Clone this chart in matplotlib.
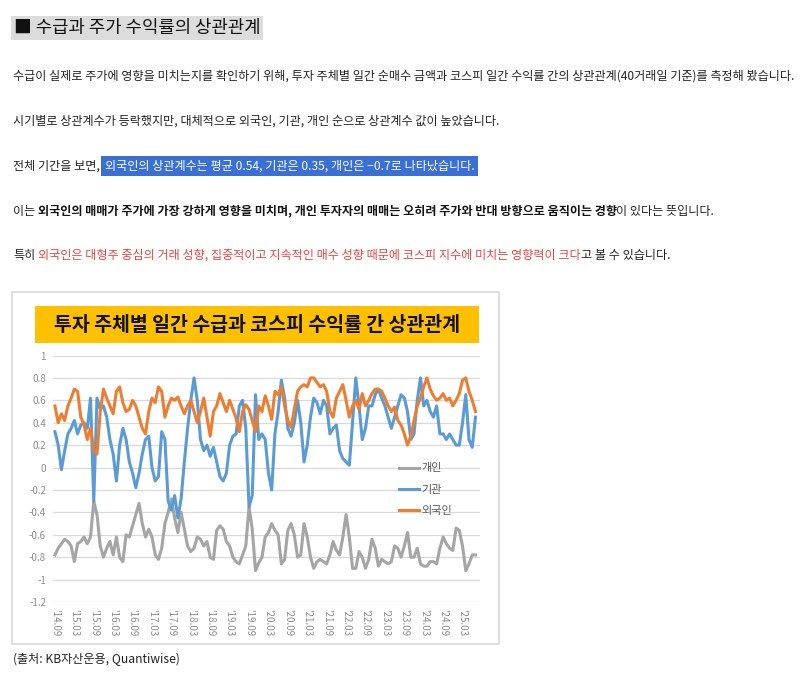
import matplotlib
matplotlib.use('Agg')
import numpy as np
import matplotlib.pyplot as plt
from matplotlib.patches import Rectangle

plt.rcParams['font.family'] = ['Noto Sans CJK KR', 'DejaVu Sans']

# monthly readings, '14.09 -> '25.07
oegukin = [0.55, 0.40, 0.48, 0.42, 0.55, 0.62, 0.70, 0.68, 0.45, 0.38,
           0.25, 0.35, 0.15, 0.12, 0.50, 0.70, 0.62, 0.55, 0.48, 0.68,
           0.72, 0.58, 0.50, 0.52, 0.60, 0.55, 0.45, 0.35, 0.30, 0.50,
           0.62, 0.58, 0.72, 0.68, 0.45, 0.55, 0.62, 0.60, 0.63, 0.55,
           0.48, 0.55, 0.60, 0.50,
           0.40, 0.50, 0.62, 0.45, 0.28, 0.50, 0.55, 0.66, 0.58, 0.50,
           0.60, 0.52, 0.44, 0.32, 0.50, 0.56, 0.52, 0.42, 0.32, 0.55,
           0.50, 0.64, 0.55, 0.43, 0.68, 0.65, 0.72, 0.55, 0.42, 0.36,
           0.52, 0.68, 0.72, 0.74, 0.72, 0.80, 0.80, 0.76, 0.72, 0.74,
           0.68, 0.50, 0.45, 0.62, 0.68, 0.74, 0.60, 0.45, 0.55, 0.60,
           0.52, 0.66, 0.55, 0.60, 0.66, 0.70, 0.70, 0.68, 0.62, 0.55,
           0.50, 0.54, 0.42, 0.38, 0.30, 0.20, 0.28, 0.42, 0.55, 0.62,
           0.72, 0.80, 0.70, 0.64, 0.60, 0.62, 0.66, 0.60, 0.62, 0.55,
           0.60, 0.66, 0.78, 0.80, 0.68, 0.60, 0.50]

gigwan = [0.32, 0.20, -0.02, 0.15, 0.30, 0.35, 0.42, 0.30, 0.38, 0.40,
          0.35, 0.62, -0.30, 0.62, 0.52, 0.55, 0.45, 0.25, 0.12, -0.12,
          0.20, 0.35, 0.25, 0.05, -0.05, -0.18, -0.05, 0.12, 0.25, 0.28,
          0.00, -0.12, -0.08, 0.32, 0.25, -0.30, -0.38, -0.25, -0.45, -0.28,
          0.05, 0.35, 0.60, 0.80,
          0.60, 0.25, 0.15, 0.20, 0.10, 0.18, 0.05, -0.08, -0.12, -0.05,
          0.20, 0.28, 0.30, 0.55, 0.60, 0.35, -0.35, -0.25, 0.65, 0.25,
          0.30, 0.25, -0.05, -0.20, 0.30, 0.50, 0.78, 0.62, 0.35, 0.28,
          0.40, 0.60, 0.40, 0.05, 0.20, 0.45, 0.62, 0.58, 0.48, 0.60,
          0.55, 0.30, 0.35, 0.38, 0.15, 0.08, 0.05, 0.02, 0.40, 0.80,
          0.55, 0.25, 0.35, 0.55, 0.55, 0.65, 0.70, 0.62, 0.55, 0.45,
          0.35, 0.45, 0.55, 0.65, 0.62, 0.50, 0.25, 0.30, 0.60, 0.80,
          0.55, 0.60, 0.50, 0.45, 0.55, 0.30, 0.30, 0.25, 0.30, 0.25,
          0.20, 0.20, 0.40, 0.65, 0.25, 0.18, 0.45]

kaein = [-0.78, -0.72, -0.68, -0.64, -0.66, -0.70, -0.84, -0.68, -0.66, -0.62,
         -0.68, -0.62, -0.30, -0.42, -0.70, -0.80, -0.72, -0.66, -0.78, -0.62,
         -0.80, -0.84, -0.60, -0.62, -0.52, -0.42, -0.32, -0.50, -0.62, -0.55,
         -0.62, -0.78, -0.82, -0.72, -0.50, -0.40, -0.28, -0.45, -0.58, -0.40,
         -0.55, -0.70, -0.75, -0.72,
         -0.62, -0.64, -0.70, -0.66, -0.80, -0.82, -0.56, -0.52, -0.55, -0.66,
         -0.70, -0.80, -0.84, -0.86, -0.78, -0.70, -0.35, -0.55, -0.92, -0.85,
         -0.80, -0.62, -0.58, -0.50, -0.56, -0.60, -0.86, -0.82, -0.56, -0.50,
         -0.60, -0.80, -0.78, -0.50, -0.62, -0.80, -0.90, -0.84, -0.82, -0.84,
         -0.86, -0.78, -0.66, -0.74, -0.78, -0.62, -0.42, -0.62, -0.90, -0.90,
         -0.75, -0.80, -0.90, -0.82, -0.64, -0.72, -0.88, -0.82, -0.84, -0.86,
         -0.84, -0.70, -0.72, -0.80, -0.70, -0.58, -0.80, -0.80, -0.72, -0.86,
         -0.88, -0.88, -0.84, -0.84, -0.86, -0.72, -0.62, -0.68, -0.72, -0.74,
         -0.54, -0.56, -0.70, -0.92, -0.86, -0.78, -0.78]

tick_labels = ["'14.09", "'15.03", "'15.09", "'16.03", "'16.09", "'17.03",
               "'17.09", "'18.03", "'18.09", "'19.03", "'19.09", "'20.03",
               "'20.09", "'21.03", "'21.09", "'22.03", "'22.09", "'23.03",
               "'23.09", "'24.03", "'24.09", "'25.03"]
y_ticks = [1, 0.8, 0.6, 0.4, 0.2, 0, -0.2, -0.4, -0.6, -0.8, -1, -1.2]
y_labels = ['1', '0.8', '0.6', '0.4', '0.2', '0', '-0.2', '-0.4', '-0.6', '-0.8', '-1', '-1.2']

W, H = 800, 676
fig = plt.figure(figsize=(W / 100, H / 100), dpi=100)
renderer = fig.canvas.get_renderer()


def fx(x):
    return x / W


def fy(y):
    return 1 - y / H


def write_line(parts, x, y, size=8.7):
    # put text pieces one after another on the same line
    for s, kw, gap in parts:
        t = fig.text(fx(x + gap), fy(y), s, fontsize=size, va='center', ha='left', **kw)
        x = t.get_window_extent(renderer).x1
    return x


dark = '#222222'
red = '#e8453c'

fig.text(fx(14), fy(28), '■ 수급과 주가 수익률의 상관관계', fontsize=12.8, color='#111111',
         va='center', ha='left',
         bbox=dict(facecolor='#dcdcdc', edgecolor='none', boxstyle='square,pad=0.15'))

write_line([('수급이 실제로 주가에 영향을 미치는지를 확인하기 위해, 투자 주체별 일간 순매수 금액과 '
             '코스피 일간 수익률 간의 상관관계(40거래일 기준)를 측정해 봤습니다.', dict(color=dark), 0)], 13, 76)
write_line([('시기별로 상관계수가 등락했지만, 대체적으로 외국인, 기관, 개인 순으로 상관계수 값이 높았습니다.',
             dict(color=dark), 0)], 13, 121)
write_line([('전체 기간을 보면,', dict(color=dark), 0),
            ('외국인의 상관계수는 평균 0.54, 기관은 0.35, 개인은 −0.7로 나타났습니다.',
             dict(color='white', bbox=dict(facecolor='#3a6fd6', edgecolor='none',
                                           boxstyle='square,pad=0.3')), 5)], 13, 166)
write_line([('이는', dict(color=dark), 0),
            ('외국인의 매매가 주가에 가장 강하게 영향을 미치며, 개인 투자자의 매매는 오히려 주가와 반대 방향으로 움직이는 경향',
             dict(color='#111111', weight='bold'), 3),
            ('이 있다는 뜻입니다.', dict(color=dark), -1)], 13, 211)
write_line([('특히', dict(color=dark), 0),
            ('외국인은 대형주 중심의 거래 성향, 집중적이고 지속적인 매수 성향 때문에 코스피 지수에 미치는 영향력이 크다',
             dict(color=red), 3),
            ('고 볼 수 있습니다.', dict(color=dark), 0)], 13, 255)

# embedded chart frame and banner
fig.add_artist(Rectangle((fx(12), fy(644)), (499 - 12) / W, (644 - 292) / H,
                         transform=fig.transFigure, facecolor='white',
                         edgecolor='#d9d9d9', linewidth=1.2, zorder=-2))
fig.add_artist(Rectangle((fx(35), fy(343)), (479 - 35) / W, (343 - 306) / H,
                         transform=fig.transFigure, facecolor='#ffc000', edgecolor='none',
                         zorder=-1))
fig.text(fx(257), fy(325), '투자 주체별 일간 수급과 코스피 수익률 간 상관관계',
         fontsize=14, weight='heavy', color='#111111', ha='center', va='center')

ax = fig.add_axes([fx(53), fy(602), (480 - 53) / W, (602 - 355.5) / H])
ax.set_zorder(3)
x = np.arange(len(kaein))
ax.plot(x, kaein, color='#a5a5a5', lw=2.2, label='개인')
ax.plot(x, gigwan, color='#5b9bd5', lw=2.2, label='기관')
ax.plot(x, oegukin, color='#ed7d31', lw=2.2, label='외국인')

ax.set_ylim(-1.2, 1.0)
ax.set_xlim(-0.6, 131.4)
ax.set_yticks(y_ticks)
ax.set_yticklabels(y_labels, fontsize=7, color='#8c8c8c')
ax.set_xticks(np.arange(len(tick_labels)) * 6)
ax.set_xticklabels(tick_labels, fontsize=7, color='#8c8c8c', rotation=270, va='top', ha='center')
ax.tick_params(length=0, pad=5)
ax.grid(axis='y', color='#d9d9d9', lw=0.9)
ax.set_axisbelow(True)
for s in ax.spines.values():
    s.set_visible(False)
ax.set_facecolor('none')

leg = ax.legend(loc='upper left', bbox_to_anchor=(0.80, 0.58), frameon=False,
                fontsize=8, handlelength=1.8, handletextpad=0.2, labelspacing=1.0,
                borderaxespad=0)
for t in leg.get_texts():
    t.set_color('#595959')

fig.text(fx(13), fy(659), '(출처: KB자산운용, Quantiwise)', fontsize=8.7, color=dark,
         va='center', ha='left')

fig.savefig('out.png', dpi=100)
